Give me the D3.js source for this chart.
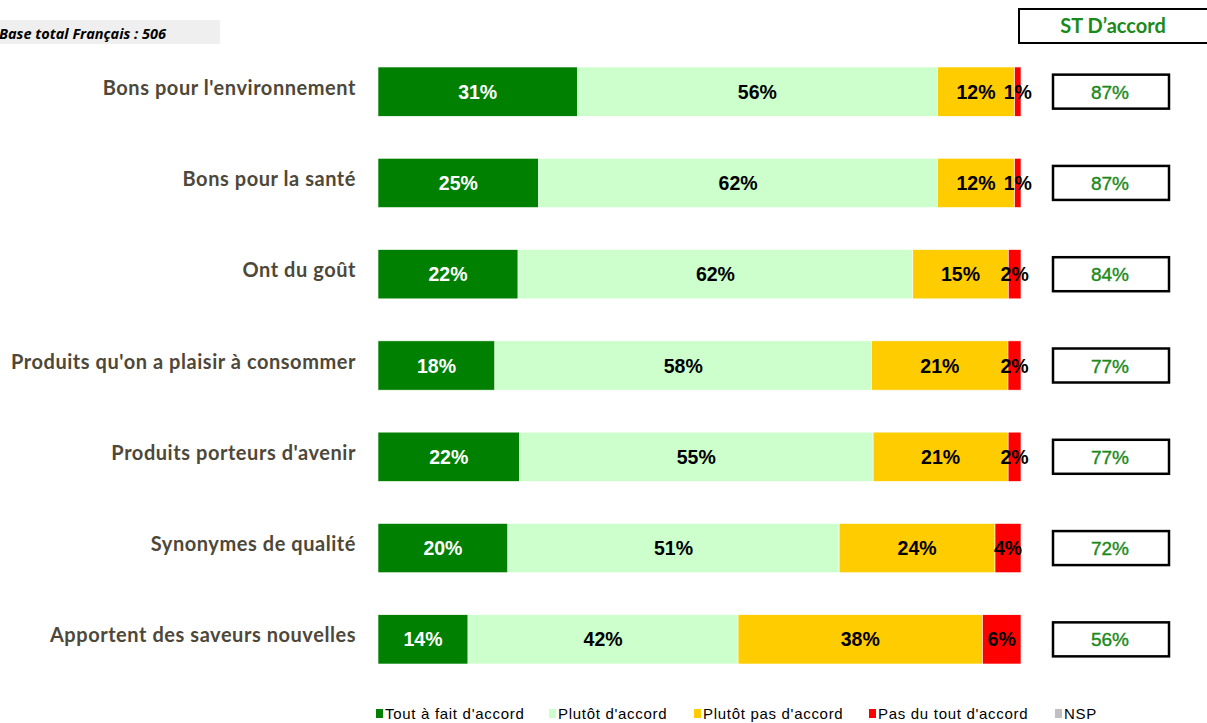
<!DOCTYPE html>
<html><head><meta charset="utf-8">
<script src="https://cdn.jsdelivr.net/npm/d3@7"></script>
<style>body{margin:0;background:#fff}svg{display:block}</style>
</head><body>
<svg id="c" width="1207" height="723"></svg>
<script>
const categories = ["Bons pour l'environnement","Bons pour la santé","Ont du goût","Produits qu'on a plaisir à consommer","Produits porteurs d'avenir","Synonymes de qualité","Apportent des saveurs nouvelles"];
const seriesNames = ["Tout à fait d'accord","Plutôt d'accord","Plutôt pas d'accord","Pas du tout d'accord","NSP"];
const toutAFait = [31,25,22,18,22,20,14];
const plutot = [56,62,62,58,55,51,42];
const plutotPas = [12,12,15,21,21,24,38];
const pasDuTout = [1,1,2,2,2,4,6];
const nsp = [0,0,0,0,0,0,0];
const stAccord = [87,87,84,77,77,72,56];
const colors = ["#008000","#ccffcc","#ffcc00","#ff0000","#c0c0c0"];
const labelColors = ["#ffffff","#000000","#000000","#000000","#000000"];

const svg = d3.select("#c");
const rows = categories.map((c,i)=>({cat:c, s0:toutAFait[i], s1:plutot[i], s2:plutotPas[i], s3:pasDuTout[i], s4:nsp[i]}));
const keys = ["s0","s1","s2","s3","s4"];
const stack = d3.stack().keys(keys).offset(d3.stackOffsetExpand);
const series = stack(rows);

const x = d3.scaleLinear().domain([0,1]).range([378,1021]);
const y = d3.scaleBand().domain(categories).range([46,685]).paddingInner(0.46).paddingOuter(0.23);

// base box
svg.append("rect").attr("x",0).attr("y",20).attr("width",220).attr("height",24).attr("fill","#efefef");
svg.append("text").attr("x",-1).attr("y",39).text("Base total Français : 506")
  .attr("font-family","Open Sans").attr("font-style","italic").attr("font-weight",700).attr("font-size",14.5).attr("fill","#000");

// header box
svg.append("rect").attr("x",1019).attr("y",9).attr("width",200).attr("height",34).attr("fill","#fff").attr("stroke","#000").attr("stroke-width",2);
svg.append("text").attr("x",1113).attr("y",33).attr("text-anchor","middle").text("ST D’accord")
  .attr("font-family","Lato").attr("font-weight",700).attr("font-size",20).attr("fill","#1a8a1a");

// bars
const g = svg.append("g");
series.forEach((s,si)=>{
  g.selectAll(null).data(s).join("rect")
    .attr("x",d=>x(d[0])).attr("y",(d,i)=>y(categories[i]))
    .attr("width",d=>Math.max(0,x(d[1])-x(d[0]))).attr("height",y.bandwidth())
    .attr("fill",colors[si]).attr("stroke","#ffffff").attr("stroke-width",0.6);
});
series.forEach((s,si)=>{
  const vals = [toutAFait,plutot,plutotPas,pasDuTout,nsp][si];
  g.selectAll(null).data(s).join("text")
    .filter((d,i)=>vals[i]>0)
    .attr("x",d=>(x(d[0])+x(d[1]))/2).attr("y",(d,i)=>y(categories[i])+y.bandwidth()/2+7)
    .attr("text-anchor","middle").attr("font-family","Arial, 'Liberation Sans'").attr("font-weight",700)
    .attr("font-size",19.5).attr("fill",labelColors[si]).text((d,i)=>vals[i]+"%");
});

// category labels
svg.selectAll(null).data(categories).join("text")
  .attr("x",356).attr("y",d=>y(d)+y.bandwidth()/2+3)
  .attr("text-anchor","end").attr("font-family","Lato").attr("font-weight",700).attr("font-size",20)
  .attr("letter-spacing",0.55).attr("fill","#4d4839").text(d=>d);

// ST boxes
categories.forEach((c,i)=>{
  const cy = y(c)+y.bandwidth()/2;
  svg.append("rect").attr("x",1053).attr("y",cy-17).attr("width",116).attr("height",34)
    .attr("fill","#fff").attr("stroke","#000").attr("stroke-width",2.5);
  svg.append("text").attr("x",1110).attr("y",cy+7).attr("text-anchor","middle")
    .attr("font-family","Arial, 'Liberation Sans'").attr("font-size",19).attr("fill","#1a8a1a")
    .attr("stroke","#1a8a1a").attr("stroke-width",0.4).text(stAccord[i]+"%");
});

// legend
const legX = [376,549,694,869,1055];
seriesNames.forEach((n,i)=>{
  svg.append("rect").attr("x",legX[i]).attr("y",709).attr("width",7).attr("height",9).attr("fill",colors[i]);
  svg.append("text").attr("x",legX[i]+9).attr("y",719).attr("font-family","Arial, 'Liberation Sans'")
    .attr("font-size",15).attr("letter-spacing",0.7).attr("fill","#000").text(n);
});
</script>
</body></html>
